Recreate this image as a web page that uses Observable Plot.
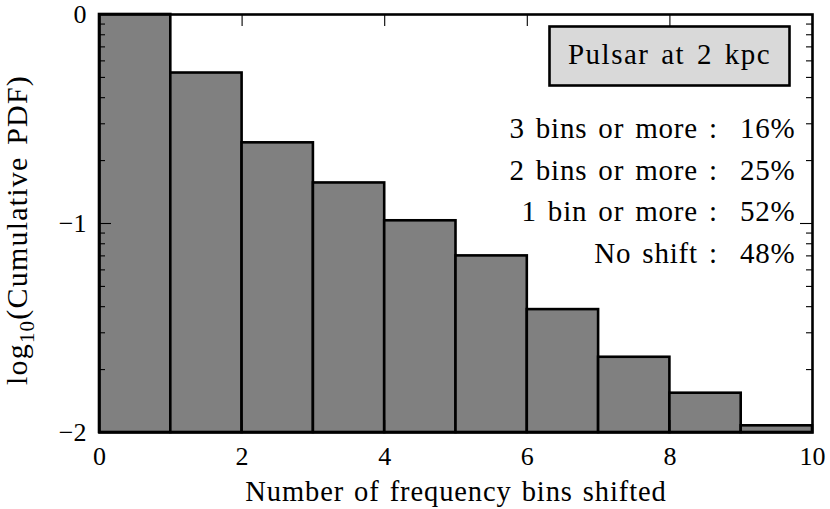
<!DOCTYPE html>
<html><head><meta charset="utf-8">
<script src="https://cdn.jsdelivr.net/npm/d3@7"></script>
<script src="https://cdn.jsdelivr.net/npm/@observablehq/plot@0.6"></script>
<style>
body{margin:0;background:#fff}
#chart svg, #chart svg text{font-family:"Liberation Serif","Tinos","Times New Roman","DejaVu Serif",serif !important}
</style>
</head><body><div id="chart"></div>
<script>
// ---- data ----
const binStart = [0, 1, 2, 3, 4, 5, 6, 7, 8, 9];
const binEnd   = [1, 2, 3, 4, 5, 6, 7, 8, 9, 10];
const logCumPdf = [0, -0.28, -0.614, -0.806, -0.987, -1.155, -1.412, -1.64, -1.812, -1.968];
const xTicks = [0, 2, 4, 6, 8, 10];
const yMajorTicks = [-2, -1, 0];
const yMinorTicks = [-2, -1].flatMap(p => [2,3,4,5,6,7,8,9].map(k => p + Math.log10(k)));
const shiftLabels = ["3 bins or more", "2 bins or more", "1 bin or more", "No shift"];
const shiftPct = [16, 25, 52, 48];
const boxTitle = "Pulsar at 2 kpc";
const xLabel = "Number of frequency bins shifted";

const bars = binStart.map((s, i) => ({x1: s, x2: binEnd[i], v: logCumPdf[i]}));

const W = 830, H = 509, mL = 99, mR = 18, mT = 14, mB = 77;
const pw = W - mL - mR, ph = H - mT - mB;
const majorLen = 12, minorLen = 6;
const fmtY = d => d === 0 ? "0" : (d < 0 ? "\u2212" : "") + Math.abs(d);

const chart = Plot.plot({
  width: W, height: H,
  marginLeft: mL, marginRight: mR, marginTop: mT, marginBottom: mB,
  x: {domain: [0, 10]},
  y: {domain: [-2, 0]},
  style: {fontFamily: "'Liberation Serif', serif", background: "white", color: "black"},
  marks: [
    Plot.rect(bars, {x1: "x1", x2: "x2", y1: -2, y2: "v", fill: "#808080", stroke: "black", strokeWidth: 2.6}),
    // inward ticks on all four sides
    Plot.tickX(xTicks, {x: d => d, insetTop: ph - majorLen, stroke: "black", strokeWidth: 1.1}),
    Plot.tickX(xTicks, {x: d => d, insetBottom: ph - majorLen, stroke: "black", strokeWidth: 1.1}),
    Plot.tickY(yMajorTicks, {y: d => d, insetRight: pw - majorLen, stroke: "black", strokeWidth: 1.1}),
    Plot.tickY(yMajorTicks, {y: d => d, insetLeft: pw - majorLen, stroke: "black", strokeWidth: 1.1}),
    Plot.tickY(yMinorTicks, {y: d => d, insetRight: pw - minorLen, stroke: "black", strokeWidth: 1.1}),
    Plot.tickY(yMinorTicks, {y: d => d, insetLeft: pw - minorLen, stroke: "black", strokeWidth: 1.1}),
    Plot.axisX({ticks: xTicks, tickSize: 0, tickPadding: 14, fontSize: 26, label: null, tickFormat: d => String(d)}),
    Plot.axisY({ticks: yMajorTicks, tickSize: 0, tickPadding: 13, fontSize: 26, label: null, tickFormat: fmtY}),
    Plot.text([xLabel], {text: d => d, frameAnchor: "bottom", dy: 68, lineAnchor: "bottom", fontSize: 28.5}),
    // title box (pixel insets from the frame)
    Plot.frame({insetLeft: 450, insetRight: 23, insetTop: 12, insetBottom: 347, fill: "#d9d9d9", stroke: "black", strokeWidth: 2.6}),
    Plot.text([boxTitle], {text: d => d, frameAnchor: "top-right", dx: -143, dy: 49, textAnchor: "middle", lineAnchor: "bottom", fontSize: 29}),
    Plot.text([shiftLabels.map((l, i) => `${l} :\u00a0\u00a0${shiftPct[i]}%`).join("\n")], {
      text: d => d, frameAnchor: "top-right", dx: -17, dy: 94.5, textAnchor: "end", lineAnchor: "top",
      fontSize: 29, lineHeight: 41.5 / 29
    }),
    Plot.frame({stroke: "black", strokeWidth: 2.6})
  ]
});
document.getElementById("chart").appendChild(chart);

const svg = d3.select(chart);
// letter spacing to approximate the wider TeX font
svg.selectAll("text").each(function() {
  const s = this.textContent;
  if (s === xLabel) d3.select(this).style("letter-spacing", "0.9px").style("word-spacing", "2px");
  else if (s === boxTitle) d3.select(this).style("letter-spacing", "1.5px").style("word-spacing", "3px");
  else if (s.includes("bins") || s.includes("shift")) d3.select(this).style("letter-spacing", "0.8px").style("word-spacing", "3px");
});

// y label with subscript
const yl = svg.append("text")
  .attr("transform", `translate(27,${230}) rotate(-90)`)
  .attr("text-anchor", "middle").attr("font-size", 30).attr("fill", "black")
  .style("letter-spacing", "1.2px").style("word-spacing", "3px");
yl.append("tspan").text("log");
yl.append("tspan").attr("font-size", 21).attr("dy", 7).text("10");
yl.append("tspan").attr("dy", -7).text("(Cumulative PDF)");
</script>
</body></html>
